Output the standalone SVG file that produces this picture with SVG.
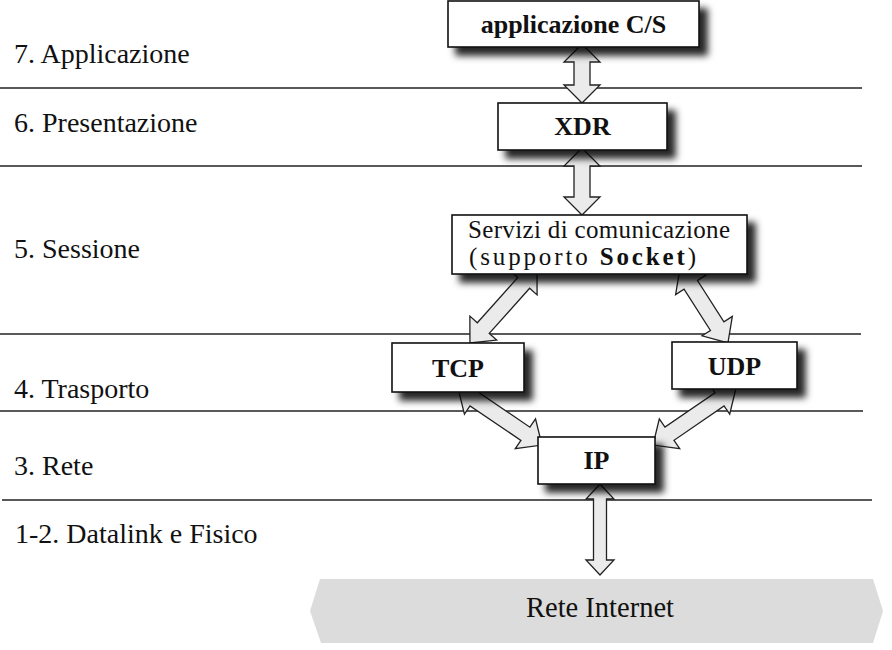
<svg xmlns="http://www.w3.org/2000/svg" width="892" height="650" viewBox="0 0 892 650">
<defs>
<filter id="sh" x="-10%" y="-20%" width="130%" height="160%">
<feDropShadow dx="8" dy="8" stdDeviation="3.5" flood-color="#000" flood-opacity="0.85"/>
</filter>
<style>
.layer{stroke:#222;stroke-width:1.6}
.lbl{font-family:"Liberation Serif","Times New Roman",serif;font-size:28px;fill:#111}
.box{fill:#fff;stroke:#111;stroke-width:1.6;filter:url(#sh)}
.bt{font-family:"Liberation Serif","Times New Roman",serif;font-size:26px;fill:#111;text-anchor:middle}
.st{font-family:"Liberation Serif","Times New Roman",serif;font-size:25px;fill:#111}
.b{font-weight:bold}
.arr{fill:#ebebeb;stroke:#222;stroke-width:1.3;stroke-linejoin:miter}
</style>
</defs>
<rect width="892" height="650" fill="#fff"/>
<g id="layers">
<line class="layer" x1="0" y1="88" x2="862" y2="88"/>
<line class="layer" x1="0" y1="166" x2="862" y2="166"/>
<line class="layer" x1="0" y1="334" x2="861" y2="334"/>
<line class="layer" x1="0" y1="411" x2="863" y2="411"/>
<line class="layer" x1="2" y1="500" x2="872" y2="500"/>
<text class="lbl" x="14" y="63">7. Applicazione</text>
<text class="lbl" x="14" y="132">6. Presentazione</text>
<text class="lbl" x="14" y="258">5. Sessione</text>
<text class="lbl" x="14" y="398">4. Trasporto</text>
<text class="lbl" x="14" y="475">3. Rete</text>
<text class="lbl" x="15" y="543">1-2. Datalink e Fisico</text>
</g>
<g id="internet">
<polygon points="320,579 873,579 883,611 873,643 321,643 310,611" fill="#dcdcdc"/>
<text class="bt" x="600" y="617" style="font-size:28.5px">Rete Internet</text>
</g>
<g id="connectors">
<g transform="translate(582,44) rotate(90)"><polygon class="arr" points="0,0 18,-18 18,-8 41,-8 41,-18 59,0 41,18 41,8 18,8 18,18"/></g>
<g transform="translate(582,148) rotate(90)"><polygon class="arr" points="0,0 18,-18 18,-8 49,-8 49,-18 67,0 49,18 49,8 18,8 18,18"/></g>
<g transform="translate(537,268) rotate(131.8)"><polygon class="arr" points="0,0 20,-18 20,-8 80.6,-8 80.6,-18 100.6,0 80.6,18 80.6,8 20,8 20,18"/></g>
<g transform="translate(680,268) rotate(57.4)"><polygon class="arr" points="0,0 20,-18 20,-8 69,-8 69,-18 89,0 69,18 69,8 20,8 20,18"/></g>
<g transform="translate(458,388) rotate(34.2)"><polygon class="arr" points="0,0 20,-18 20,-8 81.5,-8 81.5,-18 101.5,0 81.5,18 81.5,8 20,8 20,18"/></g>
<g transform="translate(736,388) rotate(145.5)"><polygon class="arr" points="0,0 20,-18 20,-8 80.7,-8 80.7,-18 100.7,0 80.7,18 80.7,8 20,8 20,18"/></g>
<g transform="translate(600,484) rotate(90)"><polygon class="arr" points="0,0 15,-14 15,-6.5 76,-6.5 76,-14 91,0 76,14 76,6.5 15,6.5 15,14"/></g>
</g>
<g id="app">
<rect class="box" x="448" y="1" width="251" height="46"/>
<text class="bt b" x="573.5" y="33">applicazione C/S</text>
</g>
<g id="xdr">
<rect class="box" x="498" y="103" width="169" height="47"/>
<text class="bt b" x="582.5" y="135">XDR</text>
</g>
<g id="servizi">
<rect class="box" x="452" y="215" width="295" height="59"/>
<text class="st" x="468" y="238" textLength="262" lengthAdjust="spacing">Servizi di comunicazione</text>
<text class="st" x="469" y="265" textLength="227" lengthAdjust="spacing">(supporto <tspan class="b">Socket</tspan>)</text>
</g>
<g id="tcp">
<rect class="box" x="392" y="343" width="132" height="49"/>
<text class="bt b" x="458" y="377">TCP</text>
</g>
<g id="udp">
<rect class="box" x="672" y="342" width="125" height="47"/>
<text class="bt b" x="734.5" y="375">UDP</text>
</g>
<g id="ip">
<rect class="box" x="538" y="437" width="117" height="47"/>
<text class="bt b" x="596.5" y="469">IP</text>
</g>
</svg>
